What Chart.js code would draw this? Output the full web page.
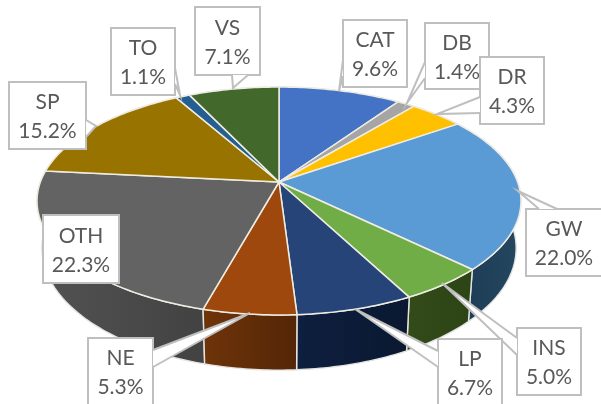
<!DOCTYPE html>
<html><head><meta charset="utf-8">
<style>html,body{margin:0;padding:0;background:#fff;overflow:hidden}canvas{display:block}</style>
<script src="https://cdn.jsdelivr.net/npm/chart.js@4"></script>
</head><body><canvas id="c" width="601" height="404"></canvas>
<script>
const categories = ['CAT','DB','DR','GW','INS','LP','NE','OTH','SP','TO','VS'];
const shares = [9.6,1.4,4.3,22.0,5.0,6.7,5.3,22.3,15.2,1.1,7.1];
const topColors = ['#4472c4','#a5a5a5','#ffc000','#5b9bd5','#70ad47','#264478','#9e480e','#636363','#997300','#255e91','#43682b'];
const wallLeft  = ['#27427a','#666','#9c7500','#1d3a56','#324b19','#0e1f3f','#6e3409','#525252','#5f4700','#163a5a','#29401a'];
const wallRight = ['#27427a','#666','#9c7500','#24475f','#2d4415','#0a1830','#542607','#424242','#5f4700','#163a5a','#29401a'];
// callout boxes: x, y, w, h, leader base A, base B, tip
const callouts = [
 [343,20,64,67,[343,60],[343,76],[339,91]],
 [425,23,64,66,[425,62],[425,78],[407,103]],
 [480,57,64,67,[480,97],[480,113],[437,114]],
 [526,209,79,67,[539,209],[557,209],[518,191]],
 [517,328,64,67,[517,338],[517,355],[442,283]],
 [438,339,64,67,[438,351],[438,367],[355,309]],
 [88,338,65,67,[153,350],[153,367],[250,313]],
 [43,215,76,68,null,null,null],
 [9,82,77,67,[86,120],[86,137],[96,126]],
 [111,28,64,67,[175,68],[175,84],[180,95]],
 [195,7,65,68,[232,75],[248,75],[233,88]]
];
const AP = {x:279, y:182, A:238.6, B:110.8, k:0.1667};
function proj(a){
  const u=Math.cos(a), v=Math.sin(a), w=1-AP.k*v;
  return [AP.x+AP.A*u/w, AP.y+AP.B*v/w];
}
function low(p){
  return [AP.x+0.98*(p[0]-AP.x), p[1]+52+(p[1]-270)*0.07];
}
function arcPts(s,e){
  const n=Math.max(2,Math.ceil((e-s)/(Math.PI/180))), r=[];
  for(let i=0;i<=n;i++) r.push(proj(s+(e-s)*i/n));
  return r;
}
const pie3d = {
  id:'pie3d',
  beforeDatasetsDraw(chart){
    const ctx=chart.ctx, arcs=chart.getDatasetMeta(0).data;
    ctx.save();
    ctx.lineJoin='round';
    const order=arcs.map((el,i)=>i).sort((a,b)=>{
      const m=i=>Math.sin((arcs[i].startAngle+arcs[i].endAngle)/2);
      return m(a)-m(b);
    });
    for(const i of order){
      const el=arcs[i], t=arcPts(el.startAngle,el.endAngle), b=t.map(low);
      const xs=t.concat(b).map(p=>p[0]);
      const g=ctx.createLinearGradient(Math.min(...xs),0,Math.max(...xs),0);
      g.addColorStop(0,wallLeft[i]); g.addColorStop(1,wallRight[i]);
      ctx.beginPath();
      t.forEach((p,j)=>j?ctx.lineTo(p[0],p[1]):ctx.moveTo(p[0],p[1]));
      b.reverse().forEach(p=>ctx.lineTo(p[0],p[1]));
      ctx.closePath();
      ctx.fillStyle=g; ctx.fill();
      ctx.strokeStyle='#e4e4e0'; ctx.lineWidth=1.4; ctx.stroke();
    }
    arcs.forEach((el,i)=>{
      const t=arcPts(el.startAngle,el.endAngle);
      ctx.beginPath(); ctx.moveTo(AP.x,AP.y);
      t.forEach(p=>ctx.lineTo(p[0],p[1]));
      ctx.closePath();
      ctx.fillStyle=el.options.backgroundColor; ctx.fill();
      ctx.strokeStyle='#efece2'; ctx.lineWidth=1.5; ctx.stroke();
    });
    ctx.restore();
    return false;
  },
  afterDraw(chart){
    const ctx=chart.ctx;
    ctx.save();
    callouts.forEach((c,i)=>{
      const [x,y,w,h,a,b,tip]=c;
      ctx.fillStyle='#fff'; ctx.strokeStyle='#bfbfbf'; ctx.lineWidth=2; ctx.lineJoin='miter';
      ctx.beginPath(); ctx.rect(x,y,w,h); ctx.fill(); ctx.stroke();
      if(tip){
        ctx.beginPath(); ctx.moveTo(a[0],a[1]); ctx.lineTo(tip[0],tip[1]); ctx.lineTo(b[0],b[1]);
        ctx.closePath(); ctx.fill();
        ctx.beginPath(); ctx.moveTo(a[0],a[1]); ctx.lineTo(tip[0],tip[1]); ctx.lineTo(b[0],b[1]); ctx.stroke();
      }
      const cx=Math.min(x+w/2,564);
      ctx.fillStyle='#595959'; ctx.font='21px Lato'; ctx.textAlign='center'; ctx.textBaseline='middle';
      ctx.fillText(categories[i],cx,y+h/2-13);
      ctx.fillText(shares[i].toFixed(1)+'%',cx,y+h/2+16);
    });
    ctx.restore();
  }
};
new Chart(document.getElementById('c'),{
  type:'pie',
  data:{labels:categories,datasets:[{data:shares,backgroundColor:topColors,borderWidth:0}]},
  options:{responsive:false,animation:false,rotation:0,
    plugins:{legend:{display:false},title:{display:false},tooltip:{enabled:false}}},
  plugins:[pie3d]
});
</script></body></html>
